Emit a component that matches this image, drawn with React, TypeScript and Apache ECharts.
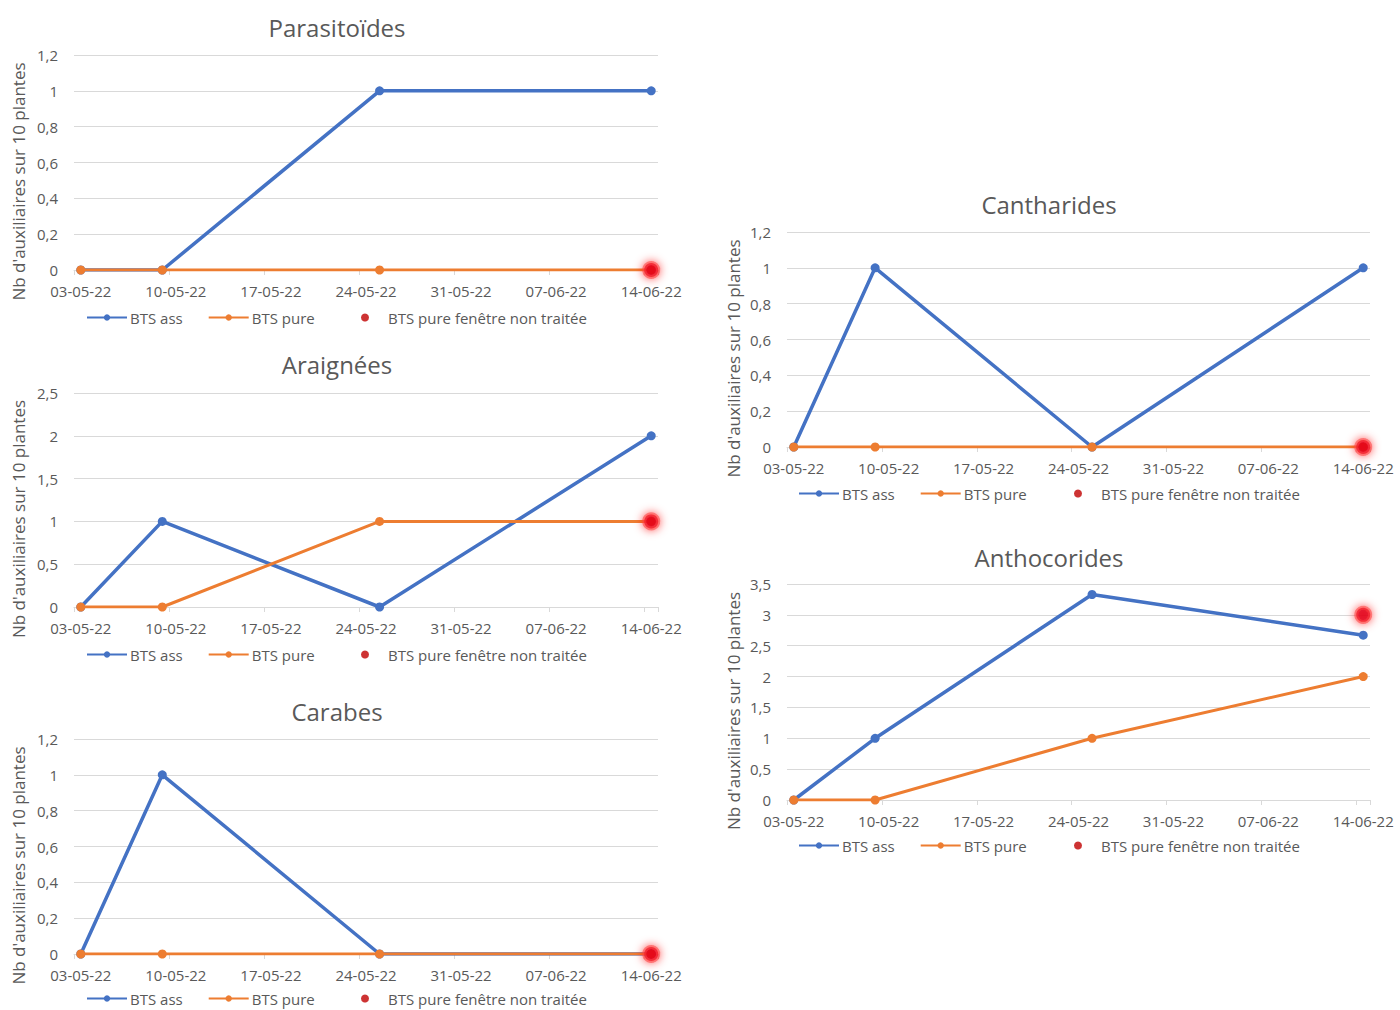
import React, { useEffect, useRef } from "react";
import * as echarts from "echarts";

// ---- data ----
const dayLabels: string[] = (() => {
  const out: string[] = [];
  const start = new Date(2022, 4, 3);
  for (let i = 0; i <= 42; i++) {
    const d = new Date(start.getTime() + i * 86400000);
    const dd = String(d.getDate()).padStart(2, "0");
    const mm = String(d.getMonth() + 1).padStart(2, "0");
    out.push(`${dd}-${mm}-22`);
  }
  return out;
})();

const sampleDates = ["03-05-22", "09-05-22", "25-05-22", "14-06-22"];
const redDate = "14-06-22";

const titles = ["Parasitoïdes", "Araignées", "Carabes", "Cantharides", "Anthocorides"];
const btsAss = [
  [0, 0, 1, 1],
  [0, 1, 0, 2],
  [0, 1, 0, 0],
  [0, 1, 0, 1],
  [0, 1, 3.33, 2.67],
];
const btsPure = [
  [0, 0, 0, 0],
  [0, 0, 1, 1],
  [0, 0, 0, 0],
  [0, 0, 0, 0],
  [0, 0, 1, 2],
];
const redValues = [0, 1, 0, 0, 3];
const yMax = [1.2, 2.5, 1.2, 1.2, 3.5];
const yStep = [0.2, 0.5, 0.2, 0.2, 0.5];

const seriesNames = ["BTS ass", "BTS pure", "BTS pure fenêtre non traitée"];
const yTitle = "Nb d'auxiliaires sur 10 plantes";

// ---- layout ----
const grids = [
  { left: 74, top: 55, width: 584, height: 215, titleX: 337, titleY: 27, legendLeft: 86, redLeft: 361, legendY: 320, yTitleX: 18 },
  { left: 74, top: 393, width: 584, height: 214, titleX: 337, titleY: 364, legendLeft: 86, redLeft: 361, legendY: 657, yTitleX: 18 },
  { left: 74, top: 739, width: 584, height: 215, titleX: 337, titleY: 711, legendLeft: 86, redLeft: 361, legendY: 1001, yTitleX: 18 },
  { left: 787, top: 232, width: 583, height: 215, titleX: 1049, titleY: 204, legendLeft: 798, redLeft: 1074, legendY: 496, yTitleX: 733 },
  { left: 787, top: 584, width: 583, height: 216, titleX: 1049, titleY: 557, legendLeft: 798, redLeft: 1074, legendY: 848, yTitleX: 733 },
];

const FONT = "'Open Sans', Lato, sans-serif";
const GREY = "#595959";
const BLUE = "#4472C4";
const ORANGE = "#ED7D31";

const idx = (d: string) => dayLabels.indexOf(d);

export default function App() {
  const ref = useRef<HTMLDivElement>(null);
  useEffect(() => {
    if (!ref.current) return;
    const chart = echarts.init(ref.current, undefined, { renderer: "svg" });

    const legendBase = {
      padding: 0,
      itemWidth: 40,
      itemHeight: 8,
      itemGap: 25,
      selectedMode: false,
      textStyle: { fontFamily: FONT, fontSize: 15, color: GREY, padding: [0, 0, 0, -2] },
    };

    const option: any = {
      animation: false,
      backgroundColor: "#ffffff",
      title: grids.map((g, i) => ({
        text: titles[i],
        left: g.titleX,
        top: g.titleY - 12,
        padding: 0,
        textAlign: "center",
        textStyle: { fontFamily: FONT, fontSize: 24, fontWeight: "normal", color: GREY },
      })),
      legend: [
        ...grids.map((g) => ({
          ...legendBase,
          left: g.legendLeft,
          top: g.legendY - 10,
          data: [{ name: seriesNames[0] }, { name: seriesNames[1] }],
        })),
        ...grids.map((g) => ({
          ...legendBase,
          left: g.redLeft,
          top: g.legendY - 10,
          data: [
            { name: seriesNames[2], itemStyle: { color: "#c00000", borderWidth: 0, shadowBlur: 0 } },
          ],
        })),
      ],
      grid: grids.map((g) => ({ left: g.left, top: g.top, width: g.width, height: g.height })),
      xAxis: grids.map((g, i) => ({
        type: "category",
        gridIndex: i,
        data: dayLabels,
        boundaryGap: true,
        axisLine: { show: true, lineStyle: { color: "#d9d9d9" } },
        axisTick: { show: true, interval: 6, length: 5, lineStyle: { color: "#d9d9d9" } },
        axisLabel: { interval: 6, color: GREY, fontFamily: FONT, fontSize: 15, margin: 13 },
        splitLine: { show: false },
      })),
      yAxis: grids.map((g, i) => ({
        type: "value",
        gridIndex: i,
        min: 0,
        max: yMax[i],
        interval: yStep[i],
        axisLine: { show: false },
        axisTick: { show: false },
        axisLabel: {
          color: GREY,
          fontFamily: FONT,
          fontSize: 15,
          margin: 16,
          formatter: (v: number) => String(+v.toFixed(1)).replace(".", ","),
        },
        splitLine: { lineStyle: { color: "#d9d9d9", width: 1 } },
      })),
      graphic: grids.map((g) => ({
        type: "text",
        x: g.yTitleX,
        y: g.top + g.height / 2 + 19,
        rotation: Math.PI / 2,
        style: {
          text: yTitle,
          fontFamily: FONT,
          fontSize: 17,
          fill: GREY,
          align: "center",
          verticalAlign: "middle",
        },
      })),
      series: [] as any[],
    };

    grids.forEach((g, i) => {
      option.series.push({
        name: seriesNames[0],
        type: "line",
        xAxisIndex: i,
        yAxisIndex: i,
        data: sampleDates.map((d, k) => [idx(d), btsAss[i][k]]),
        symbol: "circle",
        symbolSize: 9,
        lineStyle: { color: BLUE, width: 3.5 },
        itemStyle: { color: BLUE },
        z: 2,
      });
      option.series.push({
        name: seriesNames[1],
        type: "line",
        xAxisIndex: i,
        yAxisIndex: i,
        data: sampleDates.map((d, k) => [idx(d), btsPure[i][k]]),
        symbol: "circle",
        symbolSize: 9,
        lineStyle: { color: ORANGE, width: 3 },
        itemStyle: { color: ORANGE },
        z: 3,
      });
      option.series.push({
        name: seriesNames[2],
        type: "scatter",
        xAxisIndex: i,
        yAxisIndex: i,
        data: [[idx(redDate), redValues[i]]],
        symbol: "circle",
        symbolSize: 14,
        itemStyle: {
          color: "#e0001a",
          borderColor: "rgba(255,60,60,0.7)",
          borderWidth: 4,
          shadowBlur: 10,
          shadowColor: "rgba(255,0,0,0.9)",
        },
        z: 4,
      });
    });

    chart.setOption(option);
    return () => chart.dispose();
  }, []);

  return (
    <div
      ref={ref}
      style={{ position: "absolute", left: 0, top: 0, width: 1400, height: 1010, background: "#fff" }}
    />
  );
}
